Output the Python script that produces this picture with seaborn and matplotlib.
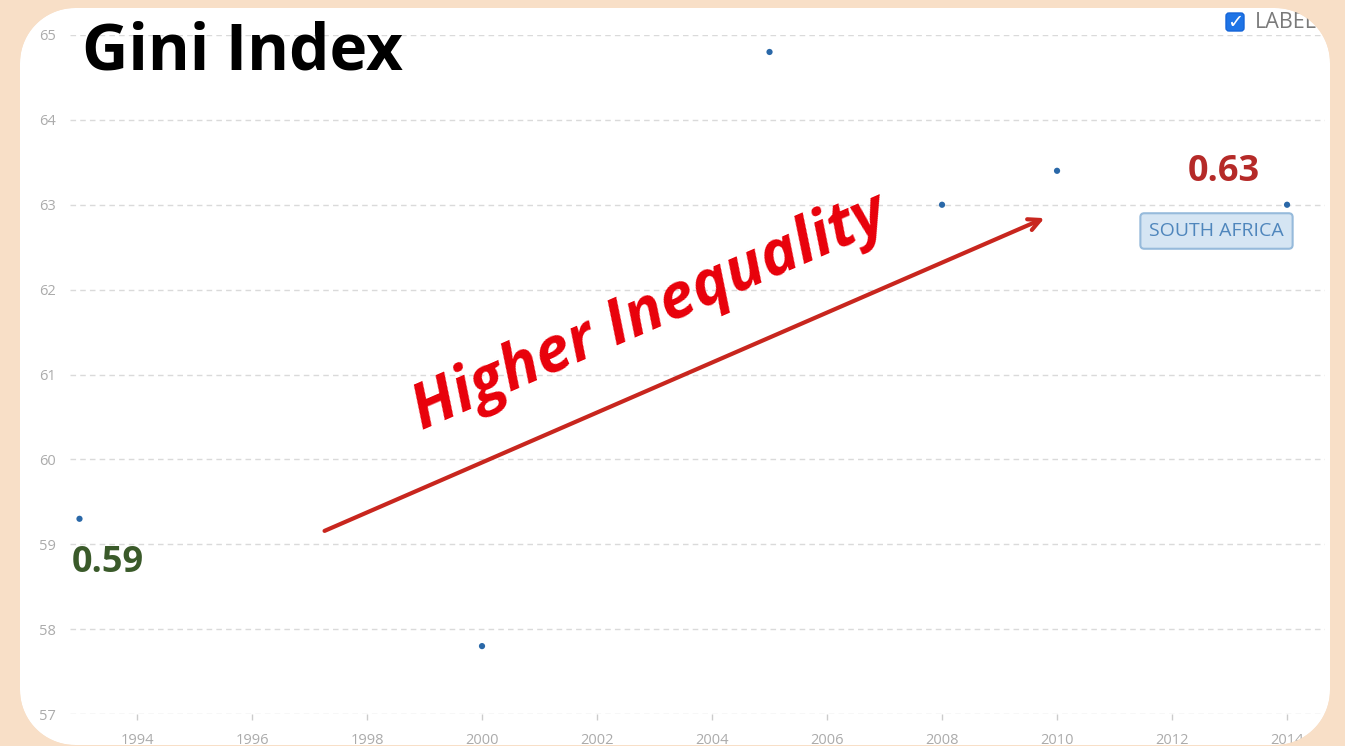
import matplotlib
matplotlib.use("Agg")
import matplotlib.pyplot as plt
from matplotlib.patches import FancyBboxPatch, PathPatch
from matplotlib.path import Path
import numpy as np
import seaborn as sns
import pandas as pd

years = [1993, 2000, 2005, 2008, 2010, 2014]
gini = [59.3, 57.8, 64.8, 63.0, 63.4, 63.0]
y_ticks = [57, 58, 59, 60, 61, 62, 63, 64, 65]
x_ticks = list(range(1994, 2015, 2))

df = pd.DataFrame({"year": years, "gini": gini})

sns.set_theme(style="white")
plt.rcParams["font.family"] = ["Open Sans", "DejaVu Sans"]

PEACH = "#F8DFC7"
W, H = 1345, 746
fw, fh = W / 100, H / 100
fig = plt.figure(figsize=(fw, fh), dpi=100)
fig.patch.set_facecolor(PEACH)

# white rounded panel geometry (inches)
PX0, PY0, PW, PH, PR = 0.20, 0.01, 13.10, 7.37, 0.55


def rounded_rect(x0, y0, w, h, r, n=24):
    pts = []
    corners = [(x0 + w - r, y0 + r, -90, 0), (x0 + w - r, y0 + h - r, 0, 90),
               (x0 + r, y0 + h - r, 90, 180), (x0 + r, y0 + r, 180, 270)]
    for cx, cy, a0, a1 in corners:
        t = np.radians(np.linspace(a0, a1, n))
        pts.append(np.column_stack([cx + r * np.cos(t), cy + r * np.sin(t)]))
    return np.vstack(pts)  # counter-clockwise


inner_poly = rounded_rect(PX0, PY0, PW, PH, PR)
panel = PathPatch(Path(np.vstack([inner_poly, inner_poly[:1]]), closed=True),
                  transform=fig.dpi_scale_trans, facecolor="white",
                  edgecolor="none", zorder=-5)
fig.patches.append(panel)

ax = fig.add_axes([70 / W, 1 - 714 / H, (1325 - 70) / W, (714 - 35) / H])
ax.set_facecolor("none")
ax.set_zorder(1)

sns.scatterplot(data=df, x="year", y="gini", ax=ax, s=20,
                color="#2A68A8", edgecolor="none", zorder=3)

ax.set_xlim(1992.835, 2014.66)
ax.set_ylim(57, 65)
ax.set_xticks(x_ticks)
ax.set_yticks(y_ticks)
ax.set_xlabel("")
ax.set_ylabel("")
for s in ax.spines.values():
    s.set_visible(False)
ax.grid(axis="y", color="#DADADA", linewidth=1, linestyle=(0, (4, 3)))
ax.grid(axis="x", visible=False)
ax.tick_params(axis="y", length=0, pad=10, labelsize=10.5, labelcolor="#ABABAB")
ax.tick_params(axis="x", length=4, width=1, color="#CCCCCC", direction="out",
               pad=10, labelsize=10.5, labelcolor="#ABABAB", bottom=True)

# Title
fig.text(82 / W, 1 - 70 / H, "Gini Index", fontsize=46, fontweight="bold",
         color="black", ha="left", va="baseline", zorder=6)

# value labels
fig.text(72 / W, 1 - 572 / H, "0.59", fontsize=26, fontweight="bold",
         color="#3A5A2A", ha="left", va="baseline", zorder=6)
fig.text(1188 / W, 1 - 181 / H, "0.63", fontsize=26, fontweight="bold",
         color="#B52A28", ha="left", va="baseline", zorder=6)

# South Africa tag
fig.text(1216.5 / W, 1 - 231 / H, "SOUTH AFRICA", fontsize=14,
         color="#4F86BC", ha="center", va="center", zorder=6,
         bbox=dict(boxstyle="round,pad=0.45,rounding_size=0.2",
                   facecolor="#D5E5F3", edgecolor="#96BADB", linewidth=1.5))

# arrow
ax.annotate("", xy=(1047 / W, 1 - 217 / H), xytext=(322 / W, 1 - 532 / H),
            xycoords="figure fraction", textcoords="figure fraction",
            arrowprops=dict(arrowstyle="->,head_length=0.7,head_width=0.35",
                            color="#C8261E", linewidth=3),
            zorder=4)

# Higher Inequality
fig.text(422 / W, 1 - 430 / H, "Higher Inequality", fontsize=45,
         fontweight="bold", fontstyle="italic", color="#E8000A",
         rotation=23.5, rotation_mode="anchor", ha="left", va="baseline",
         zorder=6)

# checkbox + LABEL
cb = FancyBboxPatch((1226, H - 31), 18, 18,
                    boxstyle="round,pad=0,rounding_size=3",
                    transform=None, facecolor="#1E74E6", edgecolor="#1565D8",
                    linewidth=1, zorder=6)
fig.patches.append(cb)
fig.text(1235 / W, 1 - 22 / H, "\u2713", fontsize=14, fontweight="bold",
         color="white", ha="center", va="center", family=["DejaVu Sans"],
         zorder=8)
fig.text(1255 / W, 1 - 22 / H, "LABEL", fontsize=15.5, color="#7A7A7A",
         ha="left", va="center", zorder=6)

# peach frame overlay with rounded hole (hides everything outside the panel)
outer = np.array([[-1, -1], [-1, fh + 1], [fw + 1, fh + 1], [fw + 1, -1]])  # clockwise
verts = np.vstack([outer, outer[:1], inner_poly, inner_poly[:1]])
codes = ([Path.MOVETO] + [Path.LINETO] * (len(outer) - 1) + [Path.CLOSEPOLY]
         + [Path.MOVETO] + [Path.LINETO] * (len(inner_poly) - 1) + [Path.CLOSEPOLY])
frame = PathPatch(Path(verts, codes), transform=fig.dpi_scale_trans,
                  facecolor=PEACH, edgecolor="none", zorder=50)
fig.add_artist(frame)
frame.set_zorder(50)

fig.savefig("out.png", dpi=100, facecolor=fig.get_facecolor())
